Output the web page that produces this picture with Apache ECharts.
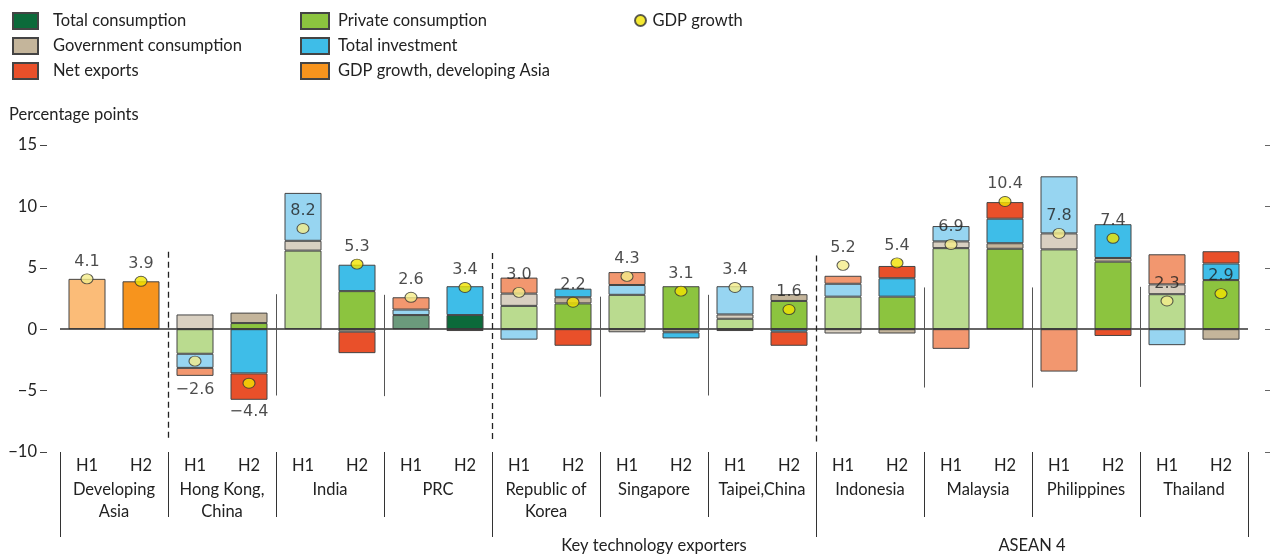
<!DOCTYPE html>
<html><head><meta charset="utf-8">
<script src="https://cdn.jsdelivr.net/npm/echarts@6/dist/echarts.min.js"></script>
<style>html,body{margin:0;padding:0;background:#fff}#c{width:1270px;height:558px}</style>
</head><body><div id="c"></div>
<script>
// ---- data ----
const economies = ['Developing\nAsia','Hong Kong,\nChina','India','PRC','Republic of\nKorea','Singapore','Taipei,China','Indonesia','Malaysia','Philippines','Thailand'];
const halves = ['H1','H2'];
const regionGroups = [{name:'Key technology exporters', from:8, to:14}, {name:'ASEAN 4', from:14, to:22}];
const regionStarts = [0, 8, 14];
const yTicks = [-10, -5, 0, 5, 10, 15];

//                         DA H1 DA H2  HK H1  HK H2  IN H1 IN H2  PRC1  PRC2  KR H1  KR H2  SG H1  SG H2  TP H1  TP H2  ID H1  ID H2  MY H1  MY H2  PH H1  PH H2  TH H1  TH H2
const totalConsumption   = [null, null, null,  null,  null, null,  1.15, 1.15, null,  null,  null,  null,  null,  null,  null,  null,  null,  null,  null,  null,  null,  null];
const privateConsumption = [null, null, -2.0,  0.5,   6.4,  3.1,   null, null, 1.9,   2.1,   2.8,   3.5,   0.85,  2.3,   2.65,  2.65,  6.6,   6.55,  6.5,   5.5,   2.85,  4.0];
const govConsumption     = [null, null, 1.2,   0.85,  0.8,  -0.2,  null, null, 1.0,   0.5,   -0.25, -0.25, 0.35,  0.55,  -0.35, -0.35, 0.55,  0.45,  1.3,   0.3,   0.8,   -0.85];
const totalInvestment    = [null, null, -1.15, -3.6,  3.9,  2.15,  0.45, 2.35, -0.85, 0.7,   0.8,   -0.5,  2.3,   -0.2,  1.05,  1.5,   1.25,  2.0,   4.65,  2.75,  -1.3,  1.35];
const netExports         = [null, null, -0.65, -2.15, null, -1.75, 1.0,  -0.15,1.3,   -1.35, 1.05,  null,  -0.15, -1.15, 0.65,  1.0,   -1.6,  1.35,  -3.45, -0.55, 2.45,  1.0];
const gdpDevelopingAsia  = [4.1,  3.9,  null,  null,  null, null,  null, null, null,  null,  null,  null,  null,  null,  null,  null,  null,  null,  null,  null,  null,  null];
const gdpGrowth          = [4.1,  3.9,  -2.6,  -4.4,  8.2,  5.3,   2.6,  3.4,  3.0,   2.2,   4.3,   3.1,   3.4,   1.6,   5.2,   5.4,   6.9,   10.4,  7.8,   7.4,   2.3,   2.9];

// separators inside the plot: [boundary index, top value, bottom value, dashed]
const separators = [
  [2, 6.3, -9.1, true], [8, 6.2, -9.0, true], [14, 6.0, -9.2, true],
  [4, 2.85, -5.4, false], [6, 2.8, -5.45, false], [10, 2.65, -5.5, false], [12, 2.8, -5.4, false],
  [16, 3.4, -4.75, false], [18, 3.4, -4.75, false], [20, 3.45, -4.7, false]
];

// ---- styles ----
const FONT = 'Lato, "Noto Sans", sans-serif';
const NUMFONT = '"DejaVu Sans", Verdana, sans-serif';
const colors = {
  tc:  ['#6b9a7c', '#0c6a3a'],
  pc:  ['#badb8f', '#8cc43f'],
  gc:  ['#d9d0c1', '#c4b59b'],
  ti:  ['#97d5f1', '#3ebde8'],
  nx:  ['#f2976f', '#e9502a'],
  da:  ['#fbbc78', '#f7941d'],
  dot: ['#f4ec8a', '#f2e400']
};

const categories = [];
economies.forEach(e => halves.forEach(h => categories.push(e.replace('\n', ' ') + '|' + h)));

function fmt(v) { const s = Math.abs(v).toFixed(1); return v < 0 ? '\u2212' + s : s; }

function barSeries(name, values, key) {
  return {
    name, type: 'bar', stack: 'all', barWidth: 37, xAxisIndex: 0, yAxisIndex: 0,
    itemStyle: { color: colors[key][1], borderColor: '#444', borderWidth: 1 },
    data: values.map((v, i) => v === null ? null : { value: v, itemStyle: { color: colors[key][i % 2] } })
  };
}

const series = [
  barSeries('Total consumption', totalConsumption, 'tc'),
  barSeries('Private consumption', privateConsumption, 'pc'),
  barSeries('Government consumption', govConsumption, 'gc'),
  barSeries('Total investment', totalInvestment, 'ti'),
  barSeries('Net exports', netExports, 'nx'),
  barSeries('GDP growth, developing Asia', gdpDevelopingAsia, 'da'),
  {
    name: 'GDP growth', type: 'scatter', xAxisIndex: 0, yAxisIndex: 0, z: 4,
    symbol: 'circle', symbolSize: [12, 10],
    itemStyle: { color: colors.dot[1], borderColor: '#333', borderWidth: 1 },
    label: { show: true, formatter: p => fmt(p.value), fontSize: 16, fontFamily: NUMFONT, color: '#1e1e1e' },
    data: gdpGrowth.map((v, i) => ({
      value: v,
      itemStyle: { color: colors.dot[i % 2] },
      label: { position: v < 0 ? 'bottom' : 'top', distance: v < 0 ? 15 : 4, color: '#1e1e1e' }
    }))
  },
  {
    name: 'sep', type: 'line', xAxisIndex: 3, yAxisIndex: 0, data: [], z: 5, silent: true,
    markLine: {
      silent: true, symbol: ['none', 'none'], label: { show: false },
      lineStyle: { color: '#333', width: 1, type: 'solid' },
      emphasis: { disabled: true },
      data: [{ yAxis: 0, lineStyle: { color: '#333', width: 1.5, type: 'solid' } }].concat(
        separators.map(s => [
          { coord: [s[0], s[1]], lineStyle: { color: s[3] ? '#222' : '#555', width: s[3] ? 1.3 : 1, type: s[3] ? [6, 4] : 'solid' } },
          { coord: [s[0], s[2]] }
        ]))
    }
  }
];

const legendText = (gap) => ({ fontSize: 16.5, fontFamily: FONT, color: '#222', lineHeight: 16, padding: [0, 0, 0, gap] });

const option = {
  animation: false,
  backgroundColor: '#fff',
  title: { text: 'Percentage points', left: 9, top: 106, padding: 0, textStyle: { fontSize: 16.5, fontWeight: 'normal', fontFamily: FONT, color: '#222' } },
  legend: [
    { orient: 'vertical', left: 12, top: 12, padding: 0, itemWidth: 25, itemHeight: 16, itemGap: 7, icon: 'rect', textStyle: legendText(10),
      data: ['Total consumption', 'Government consumption', 'Net exports'] },
    { orient: 'vertical', left: 300, top: 12, padding: 0, itemWidth: 28, itemHeight: 16, itemGap: 7, icon: 'rect', textStyle: legendText(4),
      data: ['Private consumption', 'Total investment', 'GDP growth, developing Asia'] },
    { orient: 'vertical', left: 634, top: 12, padding: 0, itemWidth: 12, itemHeight: 11, itemGap: 8,
      textStyle: { fontSize: 16.5, fontFamily: FONT, color: '#222', padding: [0, 0, 0, 1] },
      data: [{ name: 'GDP growth', icon: 'circle' }] }
  ],
  grid: { left: 60, right: 22, top: 145, bottom: 106, containLabel: false },
  xAxis: [
    { type: 'category', data: categories, position: 'bottom',
      axisLine: { show: false, onZero: false },
      axisTick: { show: true, length: 65, interval: (i) => i % 2 === 0, lineStyle: { color: '#333', width: 1 } },
      axisLabel: { interval: 0, margin: 4, lineHeight: 20, fontSize: 16.5, fontFamily: FONT, color: '#222', formatter: v => v.split('|')[1] } },
    { type: 'category', data: economies, position: 'bottom',
      axisLine: { show: false, onZero: false }, axisTick: { show: false },
      axisLabel: { interval: 0, margin: 27, lineHeight: 22, fontSize: 16.5, fontFamily: FONT, color: '#222' } },
    { type: 'category', data: categories, position: 'bottom',
      axisLine: { show: false, onZero: false },
      axisTick: { show: true, length: 85, interval: (i) => regionStarts.includes(i), lineStyle: { color: '#333', width: 1 } },
      axisLabel: { show: false } },
    { type: 'value', min: 0, max: 22, interval: 1, position: 'bottom',
      axisLine: { show: false, onZero: false }, axisTick: { show: false }, splitLine: { show: false },
      axisLabel: { margin: 84, lineHeight: 20, fontSize: 16.5, fontFamily: FONT, color: '#222',
        formatter: v => { const g = regionGroups.find(r => (r.from + r.to) / 2 === v); return g ? g.name : ''; } } }
  ],
  yAxis: [
    { type: 'value', min: yTicks[0], max: yTicks[yTicks.length - 1], interval: 5, position: 'left', offset: 13,
      axisLine: { show: false, onZero: false }, splitLine: { show: false },
      axisTick: { show: true, length: 7, lineStyle: { color: '#444' } },
      axisLabel: { margin: 10, fontSize: 16.5, fontFamily: FONT, color: '#222', padding: [0, 0, 10, 0],
        formatter: v => v < 0 ? '\u2212' + Math.abs(v) : String(v) } },
    { type: 'value', min: yTicks[0], max: yTicks[yTicks.length - 1], interval: 5, position: 'right', offset: 17,
      axisLine: { show: false, onZero: false }, splitLine: { show: false },
      axisTick: { show: true, length: 5, lineStyle: { color: '#666' } },
      axisLabel: { show: false } }
  ],
  series
};

const chart = echarts.init(document.getElementById('c'), null, { renderer: 'canvas' });
chart.setOption(option);
</script></body></html>
